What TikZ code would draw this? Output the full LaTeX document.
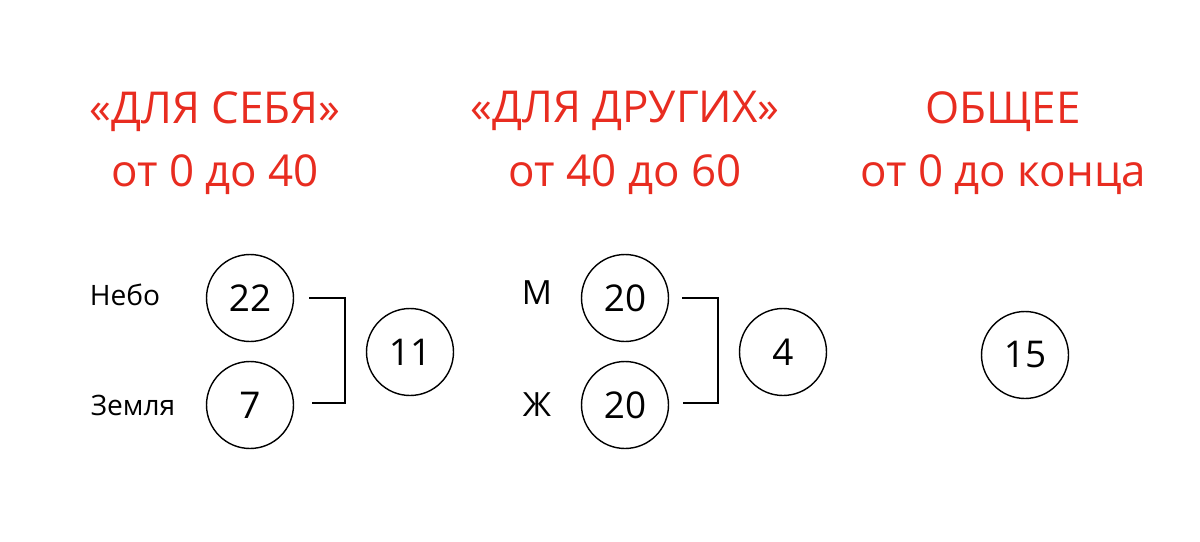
\documentclass[tikz,border=0pt]{standalone}
\usepackage{fontspec}
\setmainfont{Open Sans}
\definecolor{titlered}{RGB}{232,44,32}
\begin{document}
\begin{tikzpicture}[x=0.02cm,y=-0.02cm,
  title/.style={text=titlered,align=center,font=\fontsize{25}{36}\selectfont},
  num/.style={draw,thick,circle,minimum size=1.74cm,inner sep=0pt,font=\fontsize{21}{24}\selectfont},
  lbl/.style={font=\fontsize{16}{18}\selectfont}]
\useasboundingbox (0,0) rectangle (1200,541);
% titles
\node[title] (t1) at (215,143) {«ДЛЯ СЕБЯ»\\от 0 до 40};
\node[title] (t2) at (625,143) {«ДЛЯ ДРУГИХ»\\от 40 до 60};
\node[title] (t3) at (1003,143) {ОБЩЕЕ\\от 0 до конца};
% left group
\node[num] (sky) at (250,298) {22};
\node[num] (earth) at (250,405) {7};
\node[num] (self) at (410,352) {11};
\node[lbl] (skyl) at (125,295) {Небо};
\node[lbl] (earthl) at (133,405) {Земля};
\coordinate (b1) at (345,298);
\coordinate (b2) at (345,403);
\draw[thick] (sky.east) ++(15,0) -- (b1) -- (b2) -- ++(-33,0);
% middle group
\node[num] (man) at (625,298) {20};
\node[num] (woman) at (625,405) {20};
\node[num] (other) at (783,352) {4};
\node[lbl,font=\fontsize{19}{21}\selectfont] (manl) at (537,293) {М};
\node[lbl,font=\fontsize{19}{21}\selectfont] (womanl) at (537,405) {Ж};
\coordinate (b3) at (718,298);
\coordinate (b4) at (718,403);
\draw[thick] (man.east) ++(13,0) -- (b3) -- (b4) -- ++(-35,0);
% right
\node[num] (total) at (1025,355) {15};
\end{tikzpicture}
\end{document}
